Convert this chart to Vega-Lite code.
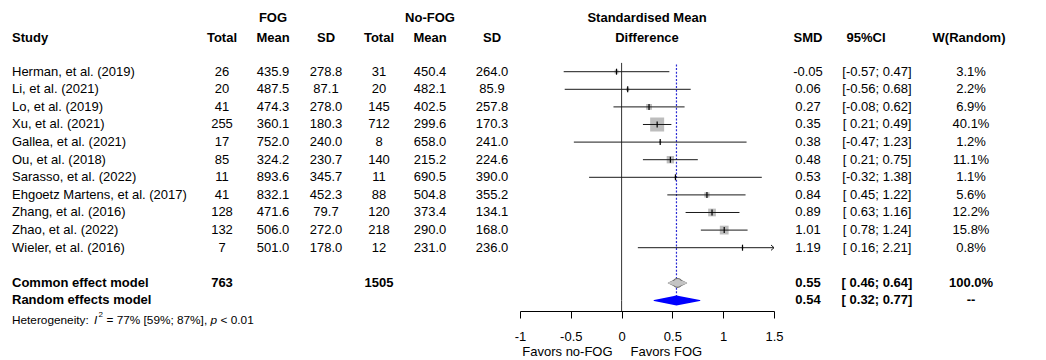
{
  "$schema": "https://vega.github.io/schema/vega-lite/v6.json",
  "padding": {"left": 12, "top": 0, "right": 16, "bottom": 0},
  "spacing": 0,
  "bounds": "flush",
  "background": "white",
  "datasets": {
    "studies": [
      {"study": "Herman, et al. (2019)", "row": 1, "n1": 26, "m1": 435.9, "sd1": 278.8, "n2": 31, "m2": 450.4, "sd2": 264.0, "smd": -0.05, "lo": -0.57, "hi": 0.47, "ci": "[-0.57; 0.47]", "w": 0.031},
      {"study": "Li, et al. (2021)", "row": 2, "n1": 20, "m1": 487.5, "sd1": 87.1, "n2": 20, "m2": 482.1, "sd2": 85.9, "smd": 0.06, "lo": -0.56, "hi": 0.68, "ci": "[-0.56; 0.68]", "w": 0.022},
      {"study": "Lo, et al. (2019)", "row": 3, "n1": 41, "m1": 474.3, "sd1": 278.0, "n2": 145, "m2": 402.5, "sd2": 257.8, "smd": 0.27, "lo": -0.08, "hi": 0.62, "ci": "[-0.08; 0.62]", "w": 0.069},
      {"study": "Xu, et al. (2021)", "row": 4, "n1": 255, "m1": 360.1, "sd1": 180.3, "n2": 712, "m2": 299.6, "sd2": 170.3, "smd": 0.35, "lo": 0.21, "hi": 0.49, "ci": "[\u00a00.21; 0.49]", "w": 0.401},
      {"study": "Gallea, et al. (2021)", "row": 5, "n1": 17, "m1": 752.0, "sd1": 240.0, "n2": 8, "m2": 658.0, "sd2": 241.0, "smd": 0.38, "lo": -0.47, "hi": 1.23, "ci": "[-0.47; 1.23]", "w": 0.012},
      {"study": "Ou, et al. (2018)", "row": 6, "n1": 85, "m1": 324.2, "sd1": 230.7, "n2": 140, "m2": 215.2, "sd2": 224.6, "smd": 0.48, "lo": 0.21, "hi": 0.75, "ci": "[\u00a00.21; 0.75]", "w": 0.111},
      {"study": "Sarasso, et al. (2022)", "row": 7, "n1": 11, "m1": 893.6, "sd1": 345.7, "n2": 11, "m2": 690.5, "sd2": 390.0, "smd": 0.53, "lo": -0.32, "hi": 1.38, "ci": "[-0.32; 1.38]", "w": 0.011},
      {"study": "Ehgoetz Martens, et al. (2017)", "row": 8, "n1": 41, "m1": 832.1, "sd1": 452.3, "n2": 88, "m2": 504.8, "sd2": 355.2, "smd": 0.84, "lo": 0.45, "hi": 1.22, "ci": "[\u00a00.45; 1.22]", "w": 0.056},
      {"study": "Zhang, et al. (2016)", "row": 9, "n1": 128, "m1": 471.6, "sd1": 79.7, "n2": 120, "m2": 373.4, "sd2": 134.1, "smd": 0.89, "lo": 0.63, "hi": 1.16, "ci": "[\u00a00.63; 1.16]", "w": 0.122},
      {"study": "Zhao, et al. (2022)", "row": 10, "n1": 132, "m1": 506.0, "sd1": 272.0, "n2": 218, "m2": 290.0, "sd2": 168.0, "smd": 1.01, "lo": 0.78, "hi": 1.24, "ci": "[\u00a00.78; 1.24]", "w": 0.158},
      {"study": "Wieler, et al. (2016)", "row": 11, "n1": 7, "m1": 501.0, "sd1": 178.0, "n2": 12, "m2": 231.0, "sd2": 236.0, "smd": 1.19, "lo": 0.16, "hi": 2.21, "ci": "[\u00a00.16; 2.21]", "w": 0.008}
    ],
    "pooled": [
      {"model": "Common effect model", "row": 13, "n1": 763, "n2": 1505, "est": 0.55, "lo": 0.46, "hi": 0.64, "ci": "[\u00a00.46; 0.64]", "wtext": "100.0%"},
      {"model": "Random effects model", "row": 14, "est": 0.54, "lo": 0.32, "hi": 0.77, "ci": "[\u00a00.32; 0.77]", "wtext": "--"}
    ]
  },
  "hconcat": [
    {
      "width": 176, "height": 360,
      "layer": [
        {"data": {"name": "studies"}, "mark": {"type": "text", "align": "left"},
         "encoding": {"x": {"datum": 0, "type": "quantitative", "scale": {"domain": [0, 1]}, "axis": null},
                      "y": {"field": "row", "type": "quantitative", "scale": {"domain": [-3.074, 17.381], "reverse": true, "nice": false, "zero": false}, "axis": null},
                      "text": {"field": "study", "type": "nominal"}}},
        {"data": {"name": "pooled"}, "mark": {"type": "text", "align": "left", "fontWeight": "bold"},
         "encoding": {"x": {"datum": 0, "type": "quantitative"},
                      "y": {"field": "row", "type": "quantitative"},
                      "text": {"field": "model", "type": "nominal"}}},
        {"data": {"values": [{}]}, "mark": {"type": "text", "align": "left", "fontWeight": "bold"},
         "encoding": {"x": {"datum": 0, "type": "quantitative"},
                      "y": {"datum": -0.9, "type": "quantitative"},
                      "text": {"value": "Study"}}},
        {"data": {"values": [{}]}, "mark": {"type": "text", "align": "left", "fontSize": 11.8},
         "encoding": {"x": {"datum": 0, "type": "quantitative"},
                      "y": {"datum": 15.1, "type": "quantitative"},
                      "text": {"value": "Heterogeneity:"}}},
        {"data": {"values": [{}]}, "mark": {"type": "text", "align": "left", "fontSize": 11.8, "fontStyle": "italic", "dx": 82.0},
         "encoding": {"x": {"datum": 0, "type": "quantitative"},
                      "y": {"datum": 15.1, "type": "quantitative"},
                      "text": {"value": "I"}}},
        {"data": {"values": [{}]}, "mark": {"type": "text", "align": "left", "fontSize": 8, "dx": 86.6, "dy": -4.5},
         "encoding": {"x": {"datum": 0, "type": "quantitative"},
                      "y": {"datum": 15.1, "type": "quantitative"},
                      "text": {"value": "2"}}},
        {"data": {"values": [{}]}, "mark": {"type": "text", "align": "left", "fontSize": 11.8, "dx": 94.5},
         "encoding": {"x": {"datum": 0, "type": "quantitative"},
                      "y": {"datum": 15.1, "type": "quantitative"},
                      "text": {"value": "= 77% [59%; 87%],"}}},
        {"data": {"values": [{}]}, "mark": {"type": "text", "align": "left", "fontSize": 11.8, "fontStyle": "italic", "dx": 198.6},
         "encoding": {"x": {"datum": 0, "type": "quantitative"},
                      "y": {"datum": 15.1, "type": "quantitative"},
                      "text": {"value": "p"}}},
        {"data": {"values": [{}]}, "mark": {"type": "text", "align": "left", "fontSize": 11.8, "dx": 208.6},
         "encoding": {"x": {"datum": 0, "type": "quantitative"},
                      "y": {"datum": 15.1, "type": "quantitative"},
                      "text": {"value": "< 0.01"}}}
      ]
    },
    {
      "width": 68, "height": 360,
      "layer": [
        {"data": {"name": "studies"}, "mark": {"type": "text"},
         "encoding": {"y": {"field": "row", "type": "quantitative", "scale": {"domain": [-3.074, 17.381], "reverse": true, "nice": false, "zero": false}, "axis": null},
                      "text": {"field": "n1", "type": "quantitative"}}},
        {"data": {"name": "pooled"}, "transform": [{"filter": {"field": "n1", "valid": true}}], "mark": {"type": "text", "fontWeight": "bold"},
         "encoding": {"y": {"field": "row", "type": "quantitative"},
                      "text": {"field": "n1", "type": "quantitative"}}},
        {"data": {"values": [{}]}, "mark": {"type": "text", "fontWeight": "bold"},
         "encoding": {"y": {"datum": -0.9, "type": "quantitative"},
                      "text": {"value": "Total"}}}
      ]
    },
    {
      "width": 34, "height": 360,
      "layer": [
        {"data": {"name": "studies"}, "mark": {"type": "text"},
         "encoding": {"y": {"field": "row", "type": "quantitative", "scale": {"domain": [-3.074, 17.381], "reverse": true, "nice": false, "zero": false}, "axis": null},
                      "text": {"field": "m1", "type": "quantitative", "format": ".1f"}}},
        {"data": {"values": [{}]}, "mark": {"type": "text", "fontWeight": "bold"},
         "encoding": {"y": {"datum": -0.9, "type": "quantitative"},
                      "text": {"value": "Mean"}}},
        {"data": {"values": [{}]}, "mark": {"type": "text", "fontWeight": "bold"},
         "encoding": {"y": {"datum": -2.03, "type": "quantitative"},
                      "text": {"value": "FOG"}}}
      ]
    },
    {
      "width": 72, "height": 360,
      "layer": [
        {"data": {"name": "studies"}, "mark": {"type": "text"},
         "encoding": {"y": {"field": "row", "type": "quantitative", "scale": {"domain": [-3.074, 17.381], "reverse": true, "nice": false, "zero": false}, "axis": null},
                      "text": {"field": "sd1", "type": "quantitative", "format": ".1f"}}},
        {"data": {"values": [{}]}, "mark": {"type": "text", "fontWeight": "bold"},
         "encoding": {"y": {"datum": -0.9, "type": "quantitative"},
                      "text": {"value": "SD"}}}
      ]
    },
    {
      "width": 34, "height": 360,
      "layer": [
        {"data": {"name": "studies"}, "mark": {"type": "text"},
         "encoding": {"y": {"field": "row", "type": "quantitative", "scale": {"domain": [-3.074, 17.381], "reverse": true, "nice": false, "zero": false}, "axis": null},
                      "text": {"field": "n2", "type": "quantitative"}}},
        {"data": {"name": "pooled"}, "transform": [{"filter": {"field": "n2", "valid": true}}], "mark": {"type": "text", "fontWeight": "bold"},
         "encoding": {"y": {"field": "row", "type": "quantitative"},
                      "text": {"field": "n2", "type": "quantitative"}}},
        {"data": {"values": [{}]}, "mark": {"type": "text", "fontWeight": "bold"},
         "encoding": {"y": {"datum": -0.9, "type": "quantitative"},
                      "text": {"value": "Total"}}}
      ]
    },
    {
      "width": 68, "height": 360,
      "layer": [
        {"data": {"name": "studies"}, "mark": {"type": "text"},
         "encoding": {"y": {"field": "row", "type": "quantitative", "scale": {"domain": [-3.074, 17.381], "reverse": true, "nice": false, "zero": false}, "axis": null},
                      "text": {"field": "m2", "type": "quantitative", "format": ".1f"}}},
        {"data": {"values": [{}]}, "mark": {"type": "text", "fontWeight": "bold"},
         "encoding": {"y": {"datum": -0.9, "type": "quantitative"},
                      "text": {"value": "Mean"}}},
        {"data": {"values": [{}]}, "mark": {"type": "text", "fontWeight": "bold"},
         "encoding": {"y": {"datum": -2.03, "type": "quantitative"},
                      "text": {"value": "No-FOG"}}}
      ]
    },
    {
      "width": 56, "height": 360,
      "layer": [
        {"data": {"name": "studies"}, "mark": {"type": "text"},
         "encoding": {"y": {"field": "row", "type": "quantitative", "scale": {"domain": [-3.074, 17.381], "reverse": true, "nice": false, "zero": false}, "axis": null},
                      "text": {"field": "sd2", "type": "quantitative", "format": ".1f"}}},
        {"data": {"values": [{}]}, "mark": {"type": "text", "fontWeight": "bold"},
         "encoding": {"y": {"datum": -0.9, "type": "quantitative"},
                      "text": {"value": "SD"}}}
      ]
    },
    {
      "width": 254, "height": 311,
      "layer": [
        {"data": {"name": "studies"}, "mark": {"type": "point", "shape": "square", "filled": true, "color": "#bdbdbd", "opacity": 1},
         "encoding": {"x": {"field": "smd", "type": "quantitative", "scale": {"domain": [-1, 1.5], "nice": false, "zero": false, "clamp": true}, "axis": {"values": [-1, -0.5, 0, 0.5, 1, 1.5], "format": "~g", "title": null, "grid": false, "domainColor": "#000", "tickColor": "#000", "tickSize": 7, "labelFontSize": 13, "labelFont": "Liberation Sans", "labelColor": "#000", "labelPadding": 12, "labelFlush": false, "labelOverlap": false}},
                      "y": {"field": "row", "type": "quantitative", "scale": {"domain": [-3.074, 14.597], "reverse": true, "nice": false, "zero": false}, "axis": null},
                      "size": {"field": "w", "type": "quantitative", "scale": {"type": "linear", "domain": [0, 0.401], "range": [0, 196]}, "legend": null}}},
        {"data": {"name": "pooled"}, "transform": [{"filter": "datum.row == 14"}], "mark": {"type": "rule", "color": "#333", "strokeWidth": 1},
         "encoding": {"x": {"datum": 0, "type": "quantitative"},
                      "y": {"field": "row", "type": "quantitative"},
                      "y2": {"datum": 0.5}}},
        {"data": {"name": "pooled"}, "transform": [{"filter": "datum.row == 14"}], "mark": {"type": "rule", "color": "#333", "strokeWidth": 1},
         "encoding": {"x": {"datum": 0, "type": "quantitative"},
                      "y": {"field": "row", "type": "quantitative"},
                      "y2": {"datum": 14.597}}},
        {"data": {"name": "pooled"}, "transform": [{"filter": "datum.row == 14"}], "mark": {"type": "rule", "color": "#2b2bd4", "strokeWidth": 1.2, "strokeDash": [2, 1.6]},
         "encoding": {"x": {"field": "est", "type": "quantitative"},
                      "y": {"field": "row", "type": "quantitative"},
                      "y2": {"datum": 0.5}}},
        {"data": {"name": "studies"}, "mark": {"type": "rule", "color": "#1a1a1a", "strokeWidth": 1},
         "encoding": {"x": {"field": "lo", "type": "quantitative"},
                      "x2": {"field": "hi"},
                      "y": {"field": "row", "type": "quantitative"}}},
        {"data": {"name": "studies"}, "mark": {"type": "point", "shape": "M0,-1L0,1", "size": 36, "filled": false, "color": "#000", "strokeWidth": 1.2, "opacity": 1},
         "encoding": {"x": {"field": "smd", "type": "quantitative"},
                      "y": {"field": "row", "type": "quantitative"}}},
        {"data": {"name": "studies"}, "transform": [{"filter": "datum.hi > 1.5"}], "mark": {"type": "point", "shape": "M-1,-0.9L0,0L-1,0.9", "size": 36, "filled": false, "color": "#1a1a1a", "strokeWidth": 1, "opacity": 1},
         "encoding": {"x": {"field": "hi", "type": "quantitative"},
                      "y": {"field": "row", "type": "quantitative"}}},
        {"data": {"name": "pooled"}, "transform": [{"filter": "datum.row == 13"}, {"fold": ["lo", "est", "hi"], "as": ["key", "value"]}], "mark": {"type": "trail", "color": "#6e6e6e"},
         "encoding": {"x": {"field": "value", "type": "quantitative"},
                      "y": {"field": "row", "type": "quantitative"},
                      "size": {"condition": {"test": "datum.key === 'est'", "value": 10}, "value": 0}}},
        {"data": {"name": "pooled"}, "transform": [{"filter": "datum.row == 13"}, {"fold": ["lo", "est", "hi"], "as": ["key", "value"]}], "mark": {"type": "trail", "color": "#c4c4c4"},
         "encoding": {"x": {"field": "value", "type": "quantitative"},
                      "y": {"field": "row", "type": "quantitative"},
                      "size": {"condition": {"test": "datum.key === 'est'", "value": 7.6}, "value": 0}}},
        {"data": {"name": "pooled"}, "transform": [{"filter": "datum.row == 14"}, {"fold": ["lo", "est", "hi"], "as": ["key", "value"]}], "mark": {"type": "trail", "color": "#0000ff"},
         "encoding": {"x": {"field": "value", "type": "quantitative"},
                      "y": {"field": "row", "type": "quantitative"},
                      "size": {"condition": {"test": "datum.key === 'est'", "value": 10}, "value": 0}}},
        {"data": {"values": [{}]}, "mark": {"type": "text", "fontWeight": "bold"},
         "encoding": {"y": {"datum": -2.03, "type": "quantitative"},
                      "text": {"value": "Standardised Mean"}}},
        {"data": {"values": [{}]}, "mark": {"type": "text", "fontWeight": "bold"},
         "encoding": {"y": {"datum": -0.9, "type": "quantitative"},
                      "text": {"value": "Difference"}}},
        {"data": {"values": [{}]}, "mark": {"type": "text", "align": "right", "dx": -9},
         "encoding": {"x": {"datum": 0, "type": "quantitative"},
                      "y": {"datum": 16.95, "type": "quantitative"},
                      "text": {"value": "Favors no-FOG"}}},
        {"data": {"values": [{}]}, "mark": {"type": "text", "align": "left", "dx": 9},
         "encoding": {"x": {"datum": 0, "type": "quantitative"},
                      "y": {"datum": 16.95, "type": "quantitative"},
                      "text": {"value": "Favors FOG"}}}
      ]
    },
    {
      "width": 68, "height": 360,
      "layer": [
        {"data": {"name": "studies"}, "mark": {"type": "text"},
         "encoding": {"y": {"field": "row", "type": "quantitative", "scale": {"domain": [-3.074, 17.381], "reverse": true, "nice": false, "zero": false}, "axis": null},
                      "text": {"field": "smd", "type": "quantitative", "format": ".2f"}}},
        {"data": {"name": "pooled"}, "mark": {"type": "text", "fontWeight": "bold"},
         "encoding": {"y": {"field": "row", "type": "quantitative"},
                      "text": {"field": "est", "type": "quantitative", "format": ".2f"}}},
        {"data": {"values": [{}]}, "mark": {"type": "text", "fontWeight": "bold"},
         "encoding": {"y": {"datum": -0.9, "type": "quantitative"},
                      "text": {"value": "SMD"}}}
      ]
    },
    {
      "width": 70, "height": 360,
      "layer": [
        {"data": {"name": "studies"}, "mark": {"type": "text"},
         "encoding": {"y": {"field": "row", "type": "quantitative", "scale": {"domain": [-3.074, 17.381], "reverse": true, "nice": false, "zero": false}, "axis": null},
                      "text": {"field": "ci", "type": "nominal"}}},
        {"data": {"name": "pooled"}, "mark": {"type": "text", "fontWeight": "bold"},
         "encoding": {"y": {"field": "row", "type": "quantitative"},
                      "text": {"field": "ci", "type": "nominal"}}},
        {"data": {"values": [{}]}, "mark": {"type": "text", "fontWeight": "bold", "dx": -11},
         "encoding": {"y": {"datum": -0.9, "type": "quantitative"},
                      "text": {"value": "95%CI"}}}
      ]
    },
    {
      "width": 118, "height": 360,
      "layer": [
        {"data": {"name": "studies"}, "mark": {"type": "text"},
         "encoding": {"y": {"field": "row", "type": "quantitative", "scale": {"domain": [-3.074, 17.381], "reverse": true, "nice": false, "zero": false}, "axis": null},
                      "text": {"field": "w", "type": "quantitative", "format": ".1%"}}},
        {"data": {"name": "pooled"}, "mark": {"type": "text", "fontWeight": "bold"},
         "encoding": {"y": {"field": "row", "type": "quantitative"},
                      "text": {"field": "wtext", "type": "nominal"}}},
        {"data": {"values": [{}]}, "mark": {"type": "text", "fontWeight": "bold", "dx": -2},
         "encoding": {"y": {"datum": -0.9, "type": "quantitative"},
                      "text": {"value": "W(Random)"}}}
      ]
    }
  ],
  "config": {
    "view": {"stroke": null},
    "text": {"font": "Liberation Sans", "fontSize": 13, "color": "#000", "baseline": "middle"},
    "locale": {"number": {"decimal": ".", "thousands": ",", "grouping": [3], "currency": ["$", ""], "minus": "-"}}
  }
}
